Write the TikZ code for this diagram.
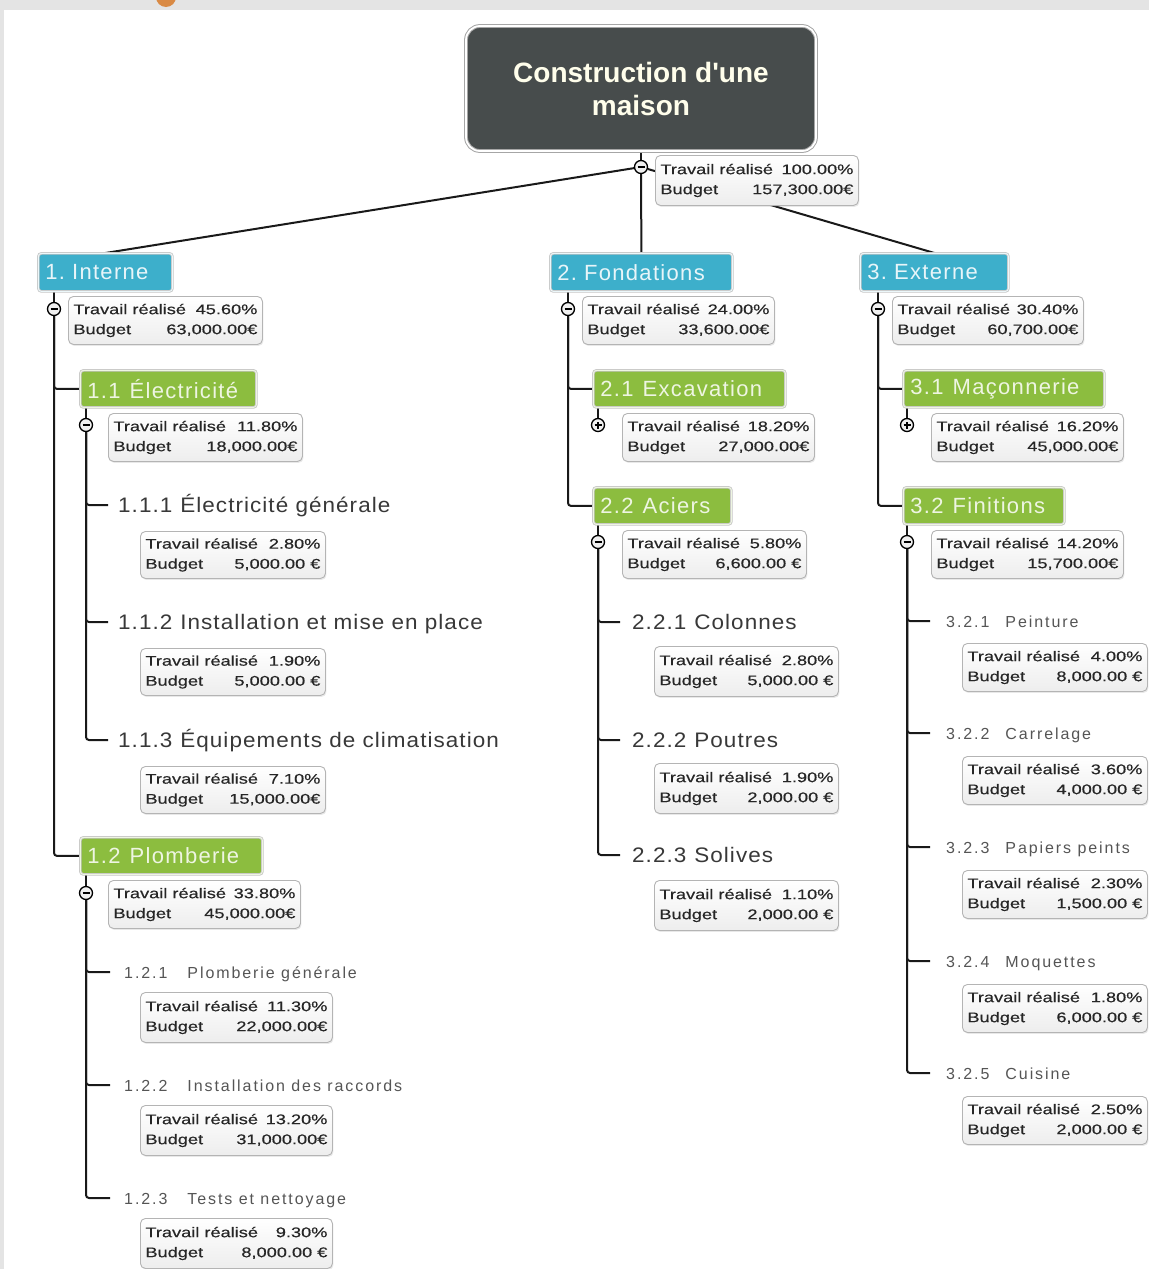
\documentclass[tikz,border=0pt]{standalone}
\usepackage{fontspec}
\setmainfont{Liberation Sans}
\newfontfamily\infofont[FakeStretch=1.3,FakeBold=0.4]{Liberation Sans}
\newfontfamily\boxfont[LetterSpace=6]{Liberation Sans}
\newfontfamily\bigfont[LetterSpace=5,FakeStretch=1.07]{Liberation Sans}
\newfontfamily\smallfont[LetterSpace=12]{Liberation Sans}
\usetikzlibrary{shadows,backgrounds}
\definecolor{rootfill}{HTML}{474C4C}
\definecolor{cyanfill}{HTML}{3DAFCB}
\definecolor{greenfill}{HTML}{8CBD3F}
\definecolor{infobord}{HTML}{B4B4B4}
\definecolor{bggray}{HTML}{E4E4E4}
\definecolor{labgray}{HTML}{383838}
\definecolor{labgraysm}{HTML}{555555}
\definecolor{orangedot}{HTML}{D98A45}
\newcommand\infobx[6]{%
  \node[infobox, minimum width=#3pt, minimum height=#4pt] (#1) at (#2)
  {\vbox{\hbox to \dimexpr#3pt-10pt\relax{Travail réalisé\hfil\ #5}%
         \hbox to \dimexpr#3pt-10pt\relax{Budget\hfil #6}}};}
\begin{document}
\begin{tikzpicture}[x=1pt,y=-1pt,
  conn/.style={line width=2pt, black!90, rounded corners=3pt},
  rootbox/.style={fill=rootfill, draw=gray!70, double=white, double distance=1.8pt, line width=1pt,
    rounded corners=14pt, minimum width=350pt, minimum height=125pt, align=center,
    text=white!92!yellow, font=\bfseries\fontsize{28}{33}\selectfont},
  lvlone/.style={anchor=north west, fill=cyanfill, draw=gray!45, double=white!90!cyanfill,
    double distance=1pt, line width=.8pt, rounded corners=3pt, minimum height=38pt,
    inner xsep=7pt, text=white!88!cyanfill, font=\boxfont\fontsize{22}{22}\selectfont, align=left},
  lvltwo/.style={lvlone, fill=greenfill, double=white!85!greenfill, text=white!85!greenfill, minimum height=37pt},
  infobox/.style={anchor=north west, draw=infobord, line width=.9pt, rounded corners=5pt,
    top color=white, bottom color=gray!14, inner xsep=5pt, inner ysep=2pt,
    drop shadow={shadow xshift=1pt, shadow yshift=-1.5pt, opacity=.18},
    font=\infofont\fontsize{14}{20}\selectfont, text=black!85},
  tog/.style={circle, draw=black, line width=1.3pt, fill=gray!12, minimum size=13pt, inner sep=0pt},
  togminus/.style={tog, path picture={\draw[line width=1.1pt] ([xshift=-3.5pt]path picture bounding box.center) -- ([xshift=3.5pt]path picture bounding box.center);}},
  togplus/.style={tog, path picture={\draw[line width=1.1pt] ([xshift=-3.5pt]path picture bounding box.center) -- ([xshift=3.5pt]path picture bounding box.center) ([yshift=-3.5pt]path picture bounding box.center) -- ([yshift=3.5pt]path picture bounding box.center);}},
  labbig/.style={anchor=west, inner xsep=10pt, inner ysep=0pt, text height=15pt, text depth=0pt,
    font=\bigfont\fontsize{21}{21}\selectfont, text=labgray},
  labsmall/.style={anchor=west, inner xsep=14pt, inner ysep=0pt, text height=12pt, text depth=0pt,
    font=\smallfont\fontsize{16}{16}\selectfont, text=labgraysm}
]
\useasboundingbox (0,0) rectangle (1149,1269);

% root
\node[rootbox] (root) at (641,88.5) {Construction d\textquotesingle une\\maison};
\node[togminus] (c0) at (641,167) {};

% level 1
\node[lvlone, minimum width=134pt, text width=120pt] (b1) at (38,253) {1.\hspace{7pt}Interne};
\node[lvlone, minimum width=182pt, text width=168pt] (b2) at (550,253) {2.\hspace{7pt}Fondations};
\node[lvlone, minimum width=148pt, text width=134pt] (b3) at (860,253) {3.\hspace{7pt}Externe};
\node[togminus] (c1) at (54,309) {};
\node[togminus] (c2) at (568,309) {};
\node[togminus] (c3) at (878,309) {};

% level 2
\node[lvltwo, minimum width=176pt, text width=162pt] (b11) at (80,370) {1.1\hspace{9pt}Électricité};
\node[lvltwo, minimum width=182pt, text width=168pt] (b12) at (80,837) {1.2\hspace{9pt}Plomberie};
\node[lvltwo, minimum width=192pt, text width=178pt] (b21) at (593,370) {2.1\hspace{9pt}Excavation};
\node[lvltwo, minimum width=138pt, text width=124pt] (b22) at (593,487) {2.2\hspace{9pt}Aciers};
\node[lvltwo, minimum width=201pt, text width=187pt] (b31) at (903,370) {3.1\hspace{9pt}Maçonnerie};
\node[lvltwo, minimum width=161pt, text width=147pt] (b32) at (903,487) {3.2\hspace{9pt}Finitions};
\node[togminus] (c11) at (86,425) {};
\node[togminus] (c12) at (86,893) {};
\node[togplus]  (c21) at (598,425) {};
\node[togminus] (c22) at (598,542) {};
\node[togplus]  (c31) at (907,425) {};
\node[togminus] (c32) at (907,542) {};

% level 3 labels
\node[labbig] (l111) at (108,505) {1.1.1\hspace{8pt}Électricité générale};
\node[labbig] (l112) at (108,622) {1.1.2\hspace{8pt}Installation et mise en place};
\node[labbig] (l113) at (108,740) {1.1.3\hspace{8pt}Équipements de climatisation};
\node[labsmall] (l121) at (110,972) {1.2.1\hspace{20pt}Plomberie générale};
\node[labsmall] (l122) at (110,1085) {1.2.2\hspace{20pt}Installation des raccords};
\node[labsmall] (l123) at (110,1198) {1.2.3\hspace{20pt}Tests et nettoyage};
\node[labbig, inner xsep=12pt] (l221) at (620,622) {2.2.1\hspace{8pt}Colonnes};
\node[labbig, inner xsep=12pt] (l222) at (620,740) {2.2.2\hspace{8pt}Poutres};
\node[labbig, inner xsep=12pt] (l223) at (620,855) {2.2.3\hspace{8pt}Solives};
\node[labsmall, inner xsep=16pt] (l321) at (930,621) {3.2.1\hspace{16pt}Peinture};
\node[labsmall, inner xsep=16pt] (l322) at (930,733) {3.2.2\hspace{16pt}Carrelage};
\node[labsmall, inner xsep=16pt] (l323) at (930,847) {3.2.3\hspace{16pt}Papiers peints};
\node[labsmall, inner xsep=16pt] (l324) at (930,961) {3.2.4\hspace{16pt}Moquettes};
\node[labsmall, inner xsep=16pt] (l325) at (930,1073) {3.2.5\hspace{16pt}Cuisine};

% info boxes
\infobx{i0}{655,155}{203}{50}{100.00\%}{157,300.00€}
\infobx{i1}{68,296}{194}{48}{45.60\%}{63,000.00€}
\infobx{i2}{582,296}{192}{48}{24.00\%}{33,600.00€}
\infobx{i3}{892,296}{191}{48}{30.40\%}{60,700.00€}
\infobx{i11}{108,413}{194}{48}{11.80\%}{18,000.00€}
\infobx{i12}{108,880}{192}{48}{33.80\%}{45,000.00€}
\infobx{i21}{622,413}{192}{48}{18.20\%}{27,000.00€}
\infobx{i22}{622,530}{184}{48}{5.80\%}{6,600.00 €}
\infobx{i31}{931,413}{192}{48}{16.20\%}{45,000.00€}
\infobx{i32}{931,530}{192}{48}{14.20\%}{15,700.00€}
\infobx{i111}{140,531}{185}{47}{2.80\%}{5,000.00 €}
\infobx{i112}{140,648}{185}{47}{1.90\%}{5,000.00 €}
\infobx{i113}{140,766}{185}{47}{7.10\%}{15,000.00€}
\infobx{i121}{140,992}{192}{50}{11.30\%}{22,000.00€}
\infobx{i122}{140,1105}{192}{50}{13.20\%}{31,000.00€}
\infobx{i123}{140,1218}{192}{50}{9.30\%}{8,000.00 €}
\infobx{i221}{654,646}{184}{50}{2.80\%}{5,000.00 €}
\infobx{i222}{654,763}{184}{50}{1.90\%}{2,000.00 €}
\infobx{i223}{654,880}{184}{50}{1.10\%}{2,000.00 €}
\infobx{i321}{962,643}{185}{48}{4.00\%}{8,000.00 €}
\infobx{i322}{962,756}{185}{48}{3.60\%}{4,000.00 €}
\infobx{i323}{962,870}{185}{48}{2.30\%}{1,500.00 €}
\infobx{i324}{962,984}{185}{48}{1.80\%}{6,000.00 €}
\infobx{i325}{962,1096}{185}{48}{2.50\%}{2,000.00 €}

\begin{pgfonlayer}{background}
  \fill[bggray] (0,0) rectangle (1149,1269);
  \fill[white] (4,10) rectangle (1149,1269);
  \begin{scope}
    \clip (0,0) rectangle (1149,10);
    \fill[orangedot] (166,-3) circle (10);
  \end{scope}
  % connectors
  \draw[conn] (root.south) -- (c0.north);
  \draw[conn] (c0) -- (b1.north);
  \draw[conn] (c0) -- (b2.north);
  \draw[conn] (c0) -- (b3.north);
  \foreach \c/\b in {c1/b1,c2/b2,c3/b3,c11/b11,c12/b12,c21/b21,c22/b22,c31/b31,c32/b32}
    \draw[conn] (\c.north) -- (\c.north |- \b.south);
  \draw[conn] (c1.south) |- (b11.west);
  \draw[conn] (c1.south) |- (b12.west);
  \draw[conn] (c2.south) |- (b21.west);
  \draw[conn] (c2.south) |- (b22.west);
  \draw[conn] (c3.south) |- (b31.west);
  \draw[conn] (c3.south) |- (b32.west);
  \foreach \l in {l111,l112,l113} \draw[conn] (c11.south) |- (\l.west);
  \foreach \l in {l121,l122,l123} \draw[conn] (c12.south) |- (\l.west);
  \foreach \l in {l221,l222,l223} \draw[conn] (c22.south) |- (\l.west);
  \foreach \l in {l321,l322,l323,l324,l325} \draw[conn] (c32.south) |- (\l.west);
\end{pgfonlayer}
\end{tikzpicture}
\end{document}
